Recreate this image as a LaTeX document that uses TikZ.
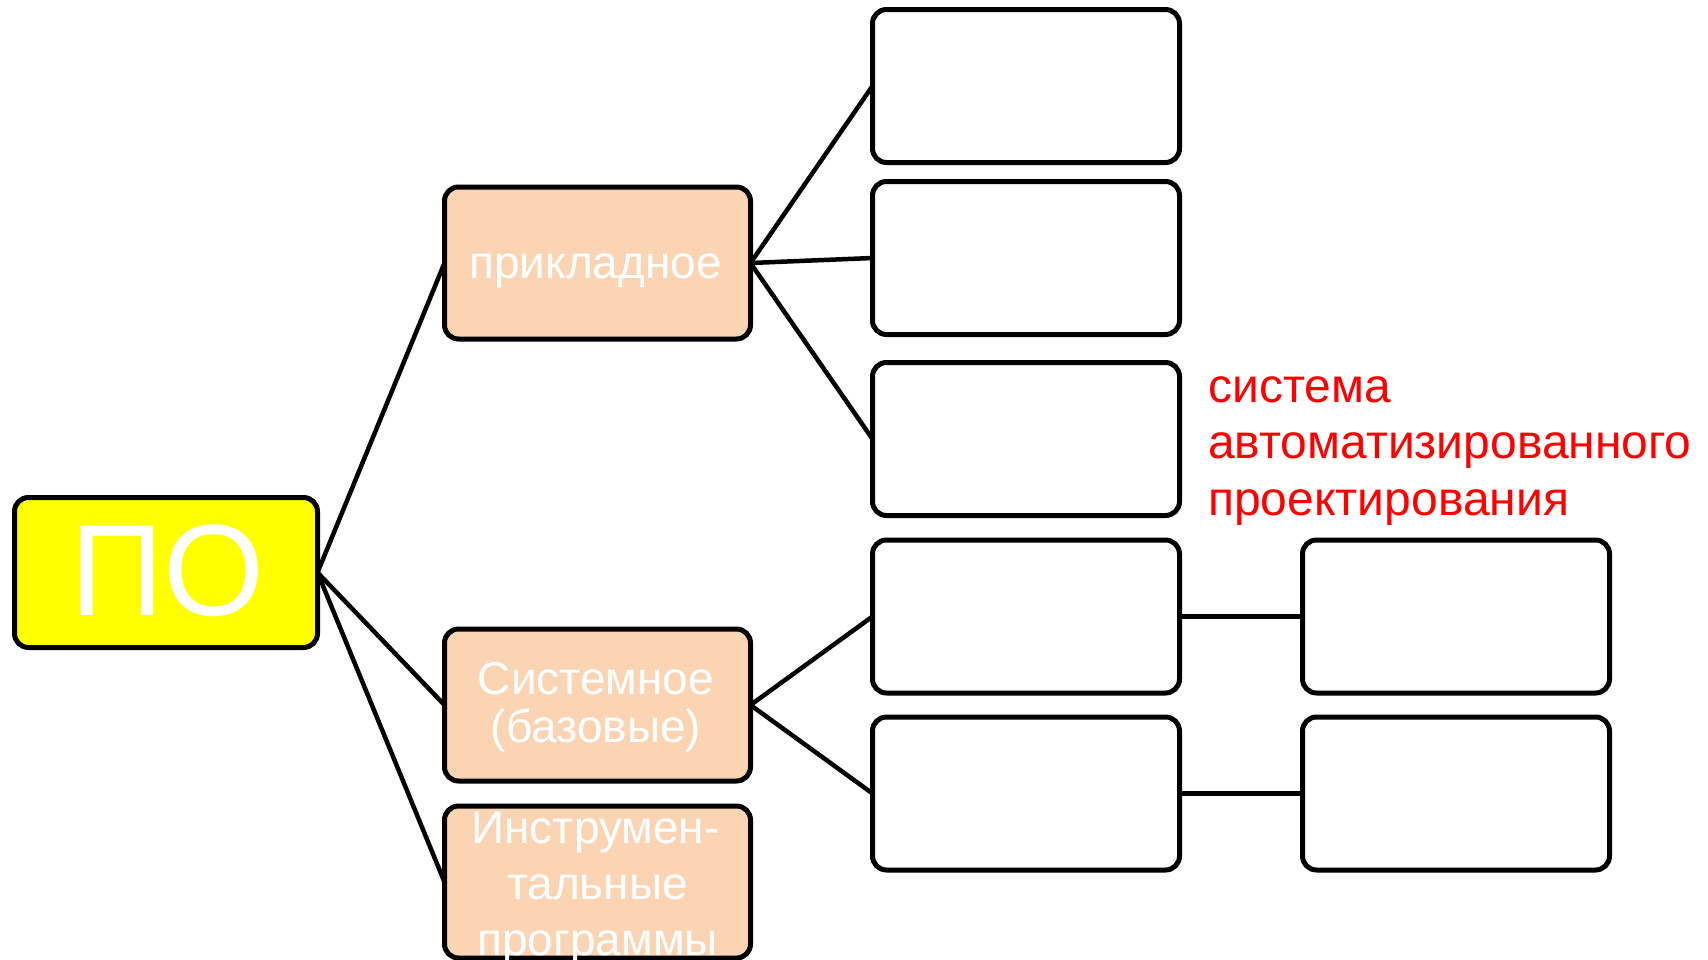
\documentclass[tikz,border=0pt]{standalone}
\usepackage{fontspec}
\setmainfont{Liberation Sans}
\definecolor{peach}{HTML}{FBD4B4}
\definecolor{pyellow}{HTML}{FFFF00}
\definecolor{pred}{HTML}{FF0000}
\tikzset{
  box/.style={draw=black, line width=5pt, rounded corners=14pt, inner sep=0pt, outer sep=0pt,
    minimum width=307pt, minimum height=153pt, fill=white},
  rootbox/.style={box, fill=pyellow, minimum width=303pt, minimum height=150pt},
  catbox/.style={box, fill=peach, minimum width=306pt, minimum height=152pt},
  link/.style={draw=black, line width=4.5pt},
  wtext/.style={anchor=base, inner sep=0pt, text=white, font=\fontsize{46}{48}\selectfont},
  rtext/.style={anchor=base west, inner sep=0pt, text=pred, font=\fontsize{48}{56}\selectfont}
}
\begin{document}
\begin{tikzpicture}[x=1pt, y=-1pt]
  \clip (0,0) rectangle (1708,959);
  \fill[white] (0,0) rectangle (1708,959);

  % boxes
  \node[rootbox] (po) at (166,572.5) {};
  \node[catbox] (app) at (597.5,263) {};
  \node[catbox] (sys) at (597.5,705) {};
  \node[catbox] (instr) at (597.5,882) {};
  \node[box] (r1) at (1026,86) {};
  \node[box] (r2) at (1026,258) {};
  \node[box] (r3) at (1026,439) {};
  \node[box] (r4) at (1026,616.5) {};
  \node[box] (r5) at (1026,793.5) {};
  \node[box] (f4) at (1456,616.5) {};
  \node[box] (f5) at (1456,793.5) {};

  % connectors
  \draw[link] (po.east) -- (app.west);
  \draw[link] (po.east) -- (sys.west);
  \draw[link] (po.east) -- (instr.west);
  \draw[link] (app.east) -- (r1.west);
  \draw[link] (app.east) -- (r2.west);
  \draw[link] (app.east) -- (r3.west);
  \draw[link] (sys.east) -- (r4.west);
  \draw[link] (sys.east) -- (r5.west);
  \draw[link] (r4.east) -- (f4.west);
  \draw[link] (r5.east) -- (f5.west);

  % texts
  \node[wtext, font=\fontsize{130}{130}\selectfont] (potxt) at (167.5,615) {ПО};
  \node[wtext] (apptxt) at (595.5,278) {прикладное};
  \node[wtext] (systxt1) at (596,694) {Системное};
  \node[wtext] (systxt2) at (596,742) {(базовые)};
  \node[wtext] (instrtxt1) at (595.5,843) {Инструмен-};
  \node[wtext] (instrtxt2) at (597.5,899) {тальные};
  \node[wtext] (instrtxt3) at (597.5,955) {программы};
  \node[rtext] (cad1) at (1208,402) {система};
  \node[rtext] (cad2) at (1208,458) {автоматизированного};
  \node[rtext] (cad3) at (1208,515) {проектирования};
\end{tikzpicture}
\end{document}
